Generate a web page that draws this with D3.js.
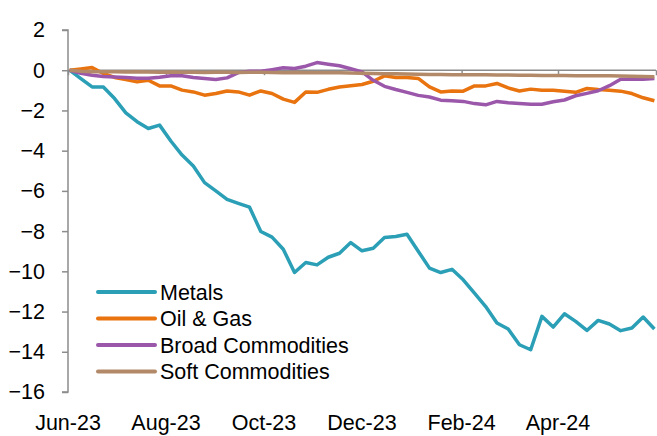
<!DOCTYPE html>
<html>
<head>
<meta charset="utf-8">
<script src="https://cdn.jsdelivr.net/npm/d3@7"></script>
<style>
  body { margin: 0; background: #fff; }
  text { font-family: "Liberation Sans Narrow", "Arial Narrow", "Liberation Sans", Arial, sans-serif; }
</style>
</head>
<body>
<div id="chart"></div>
<script>
// Weekly data, first week starts 2 Jun 2023
const startDate = new Date(2023, 5, 2);
const seriesNames = ["Metals", "Oil & Gas", "Broad Commodities", "Soft Commodities"];
const seriesColors = ["#2b9fb6", "#e8730f", "#9b58ab", "#b38a69"];

const metals = [0, -0.42, -0.83, -0.83, -1.41, -2.12, -2.56, -2.9, -2.73, -3.52,
  -4.22, -4.76, -5.59, -6.0, -6.42, -6.62, -6.81, -8.02, -8.3, -8.9,
  -10.06, -9.56, -9.68, -9.3, -9.1, -8.57, -8.98, -8.85, -8.32, -8.27,
  -8.16, -9.0, -9.84, -10.06, -9.9, -10.42, -11.08, -11.75, -12.57, -12.87,
  -13.65, -13.9, -12.24, -12.77, -12.11, -12.49, -12.94, -12.44, -12.62, -12.95,
  -12.82, -12.27, -12.87];
const oilGas = [0, 0.06, 0.13, -0.16, -0.36, -0.46, -0.58, -0.5, -0.78, -0.78,
  -0.99, -1.08, -1.24, -1.16, -1.03, -1.08, -1.24, -1.03, -1.16, -1.44,
  -1.6, -1.08, -1.1, -0.95, -0.83, -0.77, -0.71, -0.55, -0.28, -0.36,
  -0.36, -0.41, -0.83, -1.08, -1.03, -1.04, -0.78, -0.78, -0.66, -0.88,
  -1.03, -0.94, -0.99, -0.99, -1.04, -1.1, -0.91, -0.96, -0.99, -1.04,
  -1.16, -1.37, -1.52];
const broad = [0, -0.15, -0.25, -0.31, -0.34, -0.36, -0.4, -0.4, -0.35, -0.28,
  -0.28, -0.36, -0.41, -0.46, -0.38, -0.12, -0.05, -0.05, 0.03, 0.12,
  0.09, 0.2, 0.38, 0.3, 0.22, 0.07, -0.08, -0.5, -0.8, -0.96,
  -1.1, -1.25, -1.33, -1.49, -1.52, -1.55, -1.66, -1.72, -1.55, -1.62,
  -1.66, -1.69, -1.69, -1.57, -1.48, -1.27, -1.15, -1.02, -0.77, -0.45,
  -0.45, -0.45, -0.41];
const soft = [0, -0.05, -0.07, -0.08, -0.08, -0.09, -0.08, -0.09, -0.1, -0.09,
  -0.1, -0.1, -0.11, -0.1, -0.1, -0.11, -0.1, -0.1, -0.11, -0.12,
  -0.11, -0.12, -0.12, -0.13, -0.13, -0.14, -0.15, -0.16, -0.17, -0.18,
  -0.19, -0.2, -0.21, -0.21, -0.22, -0.22, -0.23, -0.23, -0.24, -0.24,
  -0.25, -0.25, -0.26, -0.26, -0.26, -0.27, -0.27, -0.28, -0.28, -0.29,
  -0.3, -0.31, -0.32];

const yTicks = [2, 0, -2, -4, -6, -8, -10, -12, -14, -16];
const xTickLabels = ["Jun-23", "Aug-23", "Oct-23", "Dec-23", "Feb-24", "Apr-24"];

const width = 657;
const height = 436;
const fontSize = 21.5;

const svg = d3.select("#chart")
  .append("svg")
  .attr("width", width)
  .attr("height", height);

const dates = metals.map((d, i) => d3.timeDay.offset(startDate, i * 7));
const allSeries = [metals, oilGas, broad, soft];

// x scale: Jun-23 to Jun-24
const x = d3.scaleTime()
  .domain([new Date(2023, 5, 1), new Date(2024, 5, 1)])
  .range([68, 656]);

const y = d3.scaleLinear()
  .domain([-16, 2])
  .range([392, 30]);

// y axis
const yAxis = svg.append("g")
  .attr("transform", "translate(68,0)")
  .call(d3.axisLeft(y).tickValues(yTicks).tickSize(6).tickPadding(17).tickFormat(d3.format("d")));
yAxis.selectAll("path, line").attr("stroke", "#8c8c8c").attr("stroke-width", 1.5);
yAxis.select(".domain").attr("d", `M-6,${y(2)}H0V${y(-16)}H-6`);
yAxis.selectAll("text")
  .attr("font-size", fontSize)
  .attr("fill", "#000")
  .attr("font-family", "Liberation Sans Narrow, Arial Narrow, Liberation Sans, sans-serif");

// x axis sits on the zero line, a tick every two months
const tickDates = d3.timeMonth.range(new Date(2023, 5, 1), new Date(2024, 5, 2), 2);
const xAxis = svg.append("g")
  .attr("transform", `translate(0,${y(0)})`)
  .call(d3.axisBottom(x).tickValues(tickDates).tickSize(5).tickFormat(""));
xAxis.selectAll("path, line").attr("stroke", "#8c8c8c").attr("stroke-width", 1.5);
xAxis.select(".domain").attr("d", `M${x.range()[0]},0H${x.range()[1]}`);

// month labels along the bottom
svg.append("g")
  .selectAll("text")
  .data(xTickLabels)
  .enter()
  .append("text")
  .attr("x", (d, i) => x(tickDates[i]))
  .attr("y", 430)
  .attr("text-anchor", "middle")
  .attr("font-size", fontSize)
  .attr("fill", "#000")
  .text(d => d);

// lines
const line = d3.line()
  .x((d, i) => x(dates[i]))
  .y(d => y(d));

svg.selectAll(".series")
  .data(allSeries)
  .enter()
  .append("path")
  .attr("class", "series")
  .attr("d", d => line(d))
  .attr("fill", "none")
  .attr("stroke", (d, i) => seriesColors[i])
  .attr("stroke-width", 3.5)
  .attr("stroke-linejoin", "round");

// legend
const legend = svg.append("g")
  .attr("transform", "translate(98,292)");

const legendRows = legend.selectAll("g")
  .data(seriesNames)
  .enter()
  .append("g")
  .attr("transform", (d, i) => `translate(0,${i * 26.5})`);

legendRows.append("line")
  .attr("x1", 0)
  .attr("x2", 57)
  .attr("stroke", (d, i) => seriesColors[i])
  .attr("stroke-width", 4)
  .attr("stroke-linecap", "round");

legendRows.append("text")
  .attr("x", 62)
  .attr("dy", "0.36em")
  .attr("font-size", fontSize)
  .attr("fill", "#000")
  .text(d => d);
</script>
</body>
</html>
